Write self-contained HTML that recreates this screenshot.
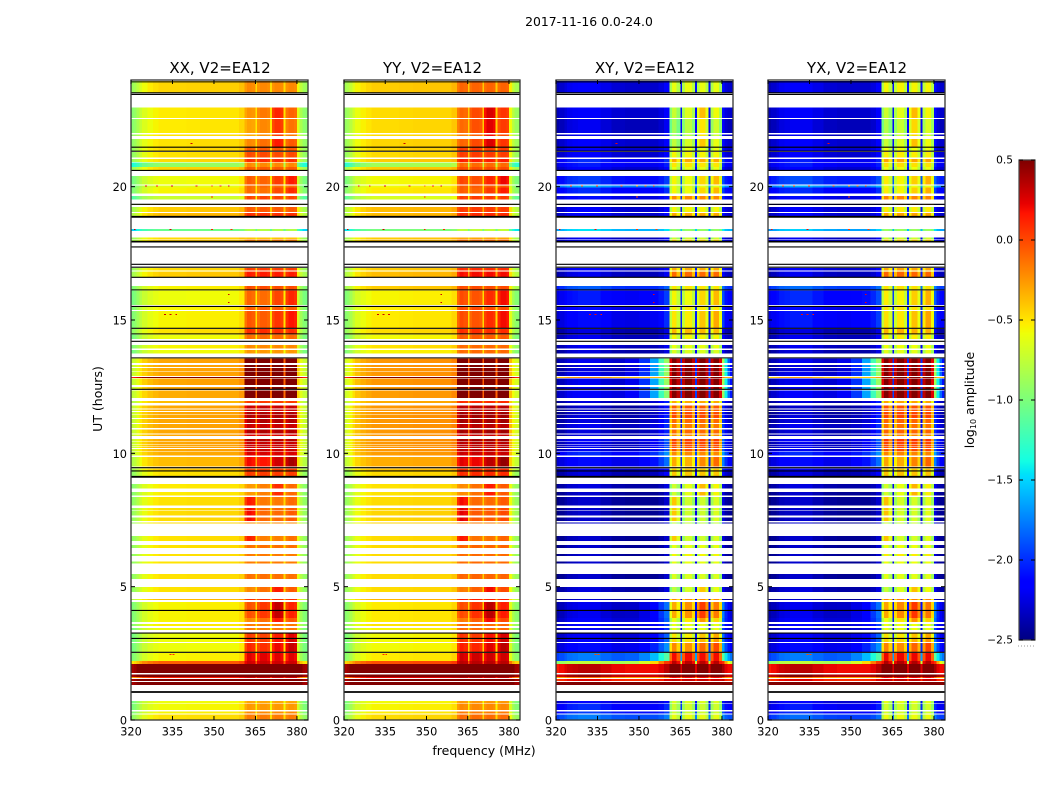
<!DOCTYPE html>
<html>
<head>
<meta charset="utf-8">
<title>2017-11-16 amplitude waterfall</title>
<style>
html,body{margin:0;padding:0;background:#fff;width:1050px;height:800px;overflow:hidden}
svg{display:block}
text{font-family:"DejaVu Sans","Liberation Sans",sans-serif;fill:#000}
</style>
</head>
<body>
<svg id="fig" xmlns="http://www.w3.org/2000/svg" width="1050" height="800" viewBox="0 0 1050 800">
<rect x="0" y="0" width="1050" height="800" fill="#fff"/>
<text x="589" y="26" font-size="12.4" text-anchor="middle">2017-11-16 0.0-24.0</text>
<text x="484" y="755" font-size="12.5" text-anchor="middle">frequency (MHz)</text>
<text transform="translate(102,399) rotate(-90)" font-size="12.5" text-anchor="middle">UT (hours)</text>
<text transform="translate(974,400) rotate(-90)" font-size="12.5" text-anchor="middle">log<tspan font-size="8" dy="2">10</tspan><tspan dy="-2"> amplitude</tspan></text>
<g id="panels"></g>
<g id="colorbar"></g>
</svg>
<script>
// Time rows with data, in UT hours (gaps stay white)
const rowEnd=[23.96,22.96,22.53,21.95,21.79,21.46,21.3,21.04,20.9,20.74,
20.4,20.04,19.97,19.65,19.35,19.24,19.01,18.41,18.09,18.01,
16.95,16.85,16.8,16.28,16.11,15.49,15.34,14.67,14.46,14.06,
13.88,13.56,13.32,13.2,13.07,12.86,12.81,12.49,12.36,11.96,
11.79,11.65,11.55,11.43,11.29,11.1,10.9,10.71,10.54,10.43,
10.33,10.26,10.16,10.07,9.87,9.44,9.32,8.85,8.55,8.37,
7.95,7.83,7.6,7.4,6.9,6.56,6.23,5.94,5.48,4.99,
4.54,4.43,3.83,3.6,3.45,3.24,3.05,2.89,2.52,2.21,
2.1,1.71,1.61,1.54,1.43,.71,.62,.31,.21];
const rowStart=[23.51,22.58,22.01,21.9,21.49,21.34,21.1,20.93,20.74,20.63,
20.08,19.97,19.74,19.51,19.31,19.05,18.9,18.34,18.04,17.96,
16.88,16.82,16.61,16.14,15.56,15.38,14.7,14.48,14.29,13.94,
13.74,13.39,13.24,13.09,12.9,12.83,12.56,12.41,12.08,11.89,
11.69,11.59,11.46,11.33,11.14,10.95,10.75,10.65,10.44,10.35,
10.28,10.2,10.09,9.91,9.5,9.34,9.15,8.68,8.41,8.04,
7.85,7.66,7.46,7.37,6.71,6.45,6.15,5.86,5.29,4.8,
4.5,3.83,3.68,3.53,3.38,3.08,2.93,2.55,2.21,2.1,
1.77,1.61,1.58,1.46,1.31,.64,.38,.24,0];
// log10 amplitude per row: off-band level and in-band level for each polarisation
const xxOff=[-.58,-.65,-.65,-.62,-.62,-.6,-.62,-.6,-1.05,-.58,
-.72,-.75,-.68,-.85,-.5,-.55,-.5,-1.2,-.6,-.55,
-.6,-.6,-.55,-.68,-.72,-.68,-.68,-.62,-.72,-.68,
-.72,-.43,-.43,-.43,-.43,.45,-.43,-.43,-.45,-.5,
-.43,-.43,-.43,-.43,-.43,-.43,-.43,-.43,-.43,-.43,
-.43,-.43,-.43,-.45,-.5,-.55,-.62,-.65,-.65,-.62,
-.6,-.6,-.6,-.6,-.62,-.62,-.62,-.62,-.62,-.62,
-.5,-.68,-.68,-.65,-.7,-.72,-.72,-.72,-.68,-.2,
.7,.7,.0,.7,.7,-.72,-.7,-.68,-.62];
const xxOn=[-.2,-.13,-.18,-.2,-.1,-.05,0,.1,-.2,-.05,
-.05,-.1,-.1,.02,.05,-.05,.08,-.8,-.4,-.15,
.05,.05,.15,0,-.08,-.05,-.03,.1,-.1,-.2,
-.25,.7,.7,.7,.7,.7,.7,.7,.7,.05,
.32,.32,.38,.38,.38,.32,.38,.28,.38,.32,
.32,.32,.32,.28,.2,.05,.05,-.15,-.15,-.1,
-.05,-.05,-.05,-.2,-.12,-.12,-.15,-.15,-.12,-.1,
.1,.08,-.1,-.15,-.15,.05,.08,.12,.25,.3,
.7,.7,.3,.7,.7,-.3,-.25,-.2,-.15];
const yyOff=[-.55,-.6,-.6,-.6,-.58,-.58,-.6,-.55,-1.0,-.55,
-.7,-.7,-.65,-.8,-.5,-.5,-.5,-1.15,-.55,-.5,
-.55,-.55,-.5,-.55,-.68,-.65,-.65,-.6,-.7,-.62,
-.68,-.38,-.38,-.38,-.38,.45,-.38,-.38,-.4,-.45,
-.38,-.38,-.38,-.38,-.38,-.38,-.38,-.38,-.38,-.38,
-.38,-.38,-.38,-.4,-.45,-.52,-.6,-.62,-.62,-.6,
-.58,-.58,-.58,-.58,-.6,-.6,-.6,-.6,-.6,-.6,
-.48,-.65,-.65,-.62,-.68,-.7,-.7,-.7,-.65,-.15,
.7,.7,.1,.7,.7,-.7,-.68,-.65,-.6];
const yyOn=[-.08,.02,0,-.05,.02,.05,.05,.15,-.1,0,
.02,-.05,-.05,.05,.1,.05,.1,-.75,-.3,-.1,
.1,.1,.2,0,0,0,0,.1,-.05,-.1,
-.1,.7,.7,.7,.7,.7,.7,.7,.7,.1,
.36,.36,.42,.42,.42,.36,.42,.32,.42,.36,
.36,.36,.36,.32,.25,.1,.1,-.1,-.1,-.05,
0,0,0,-.15,-.08,-.08,-.1,-.1,-.08,-.05,
.15,.1,-.05,-.1,-.1,.08,.1,.15,.3,.35,
.7,.7,.35,.7,.7,-.25,-.2,-.15,-.1];
const xyOff=[-2.3,-2.3,-2.35,-2.35,-2.3,-2.3,-2.3,-2.15,-2.2,-2.3,
-2.1,-1.75,-2.15,-2.25,-2.25,-2.3,-2.3,-1.6,-2.35,-2.25,
-2.3,-2.3,-2.35,-2,-2.2,-2.25,-2.25,-2.4,-2.35,-2.35,
-2.4,-2.35,-2.4,-2.4,-2.35,-.35,-2.35,-2.35,-2.3,-2.4,
-2.45,-2.45,-2.45,-2.4,-2.4,-2.35,-2.4,-2.4,-2.3,-2.35,
-2.35,-2.35,-2.35,-2.15,-2.25,-2.35,-2.4,-2.4,-2.45,-2.45,
-2.45,-2.45,-2.45,-2.45,-2.45,-2.45,-2.45,-2.45,-2.45,-2.4,
-2.45,-2.35,-2.3,-2.3,-2.35,-2.3,-2.3,-2.25,-1.9,-.9,
.2,.3,-.3,.1,.6,-2.3,-2.15,-2.1,-1.9];
const xyOn=[-.6,-.62,-.75,-.75,-.65,-.6,-.55,-.3,-.5,-.6,
-.55,-.6,-.55,-.2,-.2,-.55,-.3,-.9,-.7,-.45,
-.3,-.3,-.1,-.5,-.55,-.5,-.5,-.35,-.55,-.6,
-.65,.7,.7,.7,.7,.7,.7,.7,.7,-.3,
-.05,-.05,0,0,-.1,-.15,-.1,-.2,.05,0,
0,0,0,-.2,-.3,-.4,-.4,-.6,-.6,-.65,
-.65,-.65,-.65,-.75,-.65,-.6,-.55,-.6,-.65,-.65,
-.2,-.2,-.5,-.6,-.6,-.5,-.45,-.2,.2,.35,
.7,.7,.2,.3,.7,-.65,-.7,-.7,-.6];
const yxOff=[-2.3,-2.3,-2.35,-2.35,-2.3,-2.3,-2.3,-2.2,-2.2,-2.3,
-2.05,-1.75,-2.15,-2.25,-2.25,-2.3,-2.3,-1.65,-2.35,-2.25,
-2.3,-2.3,-2.35,-1.95,-2.15,-2.25,-2.2,-2.4,-2.35,-2.35,
-2.4,-2.35,-2.4,-2.4,-2.35,-.4,-2.35,-2.35,-2.3,-2.4,
-2.45,-2.45,-2.45,-2.4,-2.4,-2.35,-2.4,-2.4,-2.3,-2.35,
-2.35,-2.35,-2.35,-2.15,-2.25,-2.35,-2.4,-2.4,-2.45,-2.45,
-2.45,-2.45,-2.45,-2.45,-2.45,-2.45,-2.45,-2.45,-2.45,-2.4,
-2.45,-2.35,-2.3,-2.3,-2.35,-2.3,-2.3,-2.25,-1.9,-.9,
.2,.35,-.3,.1,.6,-2.3,-2.2,-2.15,-1.95];
const yxOn=[-.55,-.6,-.7,-.7,-.62,-.58,-.52,-.28,-.48,-.58,
-.52,-.58,-.52,-.18,-.18,-.52,-.28,-.88,-.68,-.42,
-.28,-.28,-.08,-.48,-.52,-.48,-.48,-.32,-.52,-.58,
-.62,.7,.7,.7,.7,.7,.7,.7,.7,-.28,
-.02,-.02,.02,.02,-.08,-.12,-.08,-.18,.08,.02,
.02,.02,.02,-.18,-.28,-.38,-.38,-.58,-.58,-.62,
-.62,-.62,-.62,-.72,-.62,-.58,-.52,-.58,-.62,-.62,
-.18,-.18,-.48,-.58,-.58,-.48,-.42,-.18,.22,.38,
.7,.7,.22,.32,.7,-.62,-.68,-.68,-.58];
// Strength of the cross-pol spill beside the band, per row
const crossWing=[0,0,0,0,0,0,0,0,0,0,
0,0,0,0,0,0,0,0,0,0,
0,0,0,0,.1,0,.1,0,0,0,
0,1.3,1.3,1.3,1.3,0,1.3,1.3,1.2,.2,
.2,.2,.2,.2,.2,.2,.2,.2,.3,.3,
.3,.3,.3,.3,.3,.1,.1,0,0,0,
0,0,0,0,0,0,0,0,0,0,
0,.4,.3,.2,.2,.3,.3,.4,.6,.8,
0,0,0,0,0,0,0,0,0];
// Which entry of blockBias each row uses
const rowBias=[0,1,1,1,1,0,0,0,0,0,
2,0,2,0,0,0,0,0,0,0,
0,0,0,0,2,0,2,0,0,0,
0,0,0,0,0,0,0,0,0,0,
0,0,0,0,0,0,0,0,0,0,
0,0,0,0,2,0,0,1,1,3,
3,3,3,0,3,0,0,0,0,1,
0,1,1,0,0,2,2,2,0,0,
0,0,0,0,0,0,0,0,0];
const blockBias=[[0,0,0,0],[-.1,-.02,.25,.05],[0,-.03,.1,.2],[.25,-.05,-.05,0]];
// Frequency channels (MHz edges)
const freqEdges=[320,321,322,323,324,326,328,330,333,336,340,345,350,354,357,359,361,
362,363.5,365,365.6,366.6,369.2,370.3,370.9,371.9,374.1,375.1,375.9,376.9,379,380,381,382,383,384];
const channelBlock=[-1,-1,-1,-1,-1,-1,-1,-1,-1,-1,-1,-1,-1,-1,-1,-1,
0,0,0,-1,1,1,1,-1,2,2,2,-1,3,3,3,-1,-1,-1,-1];
const parallelOffShape=[-.3,-.26,-.18,-.08,0,.06,.1,.13,.13,.13,.14,.15,.15,.15,.15,.2,
0,0,0,0,0,0,0,0,0,0,0,0,0,0,0,.02,-.18,-.28,-.3];
const crossOffShape=[-.05,0,0,.05,.1,.12,.15,.15,.15,.08,.02,0,0,0,.05,.15,
0,0,0,0,0,0,0,0,0,0,0,0,0,0,0,.2,.05,0,0];
const parallelWeight=[0,0,0,0,0,0,0,0,0,0,0,0,0,0,0,0,
.85,1,.95,.3,.9,1,.95,.3,.9,1,.95,.3,.9,1,.95,0,0,0,0];
const crossWeight=[0,0,0,0,0,0,0,0,0,0,0,0,0,0,0,0,
.85,1,.88,.12,.88,1,.88,.12,.88,1,.88,.12,.88,1,.85,0,0,0,0];
const wingShape=[0,0,0,0,0,0,0,0,0,0,.03,.1,.28,.55,.85,1,
0,0,0,0,0,0,0,0,0,0,0,0,0,0,0,1,.7,.4,.2];
// Horizontal flagged lines, UT hours
const blackLineHours=[23.93,23.52,23.46,21.48,21.33,20.61,19.34,17.74,17.09,16.98,16.6,16.13,15.51,14.69,14.48,14.2,13.58,12.4,9.46,9.34,4.11,3.26,3.06,2.54];
const thickLineHours=[18.87,17.94,9.12,1.05];
// Isolated bright specks
const speckHours=[20.0,20.0,20.0,20.0,20.0,20.0,20.0,18.38,18.38,18.38,18.38,15.18,15.18,15.18,15.93,15.63,2.44,2.44,21.6,19.6];
const speckFreqs=[325,329,334.5,343.4,349,352,355,321,334,349,356,332,334,336,355,355,334,335,341.6,349];
const speckLevels=[.2,.15,.25,.2,-.1,.1,.25,.3,.3,.15,.1,.3,.3,.25,.3,.3,.1,.1,.3,.1];
// Axis ticks
const xTickValues=[320,335,350,365,380];
const yTickValues=[0,5,10,15,20];
const colorbarTicks=[0.5,0,-0.5,-1,-1.5,-2,-2.5];
const colorbarTickLabels=["0.5","0.0","\u22120.5","\u22121.0","\u22121.5","\u22122.0","\u22122.5"];
const panelTitles=["XX, V2=EA12","YY, V2=EA12","XY, V2=EA12","YX, V2=EA12"];
const panelKinds=["parallel","parallel","cross","cross"];
const panelOff=[xxOff,yyOff,xyOff,yxOff];
const panelOn=[xxOn,yyOn,xyOn,yxOn];

const SVGNS="http://www.w3.org/2000/svg";
const panelLeft=[131,344,556,768], panelWidth=[177,176,177,177], plotTop=80, plotBottom=720;
const yScale=h=>plotBottom-h*(plotBottom-plotTop)/24;
const xScale=(f,p)=>panelLeft[p]+(f-320)*panelWidth[p]/64;
const vMin=-2.5, vMax=0.5;
const cl=v=>Math.max(0,Math.min(1,v));
function jet(t){
  t=cl(t);
  let r=t<.35?0:t<.66?(t-.35)/.31:t<.89?1:1-(t-.89)/.11*.5;
  let g=t<.125?0:t<.375?(t-.125)/.25:t<.64?1:t<.91?1-(t-.64)/.27:0;
  let b=t<.11?.5+t/.11*.5:t<.34?1:t<.65?1-(t-.34)/.31:0;
  return "rgb("+Math.round(r*255)+","+Math.round(g*255)+","+Math.round(b*255)+")";
}
const colorOf=v=>jet((v-vMin)/(vMax-vMin));
function mk(tag,attrs,parent){
  const el=document.createElementNS(SVGNS,tag);
  for(const k in attrs)el.setAttribute(k,attrs[k]);
  parent.appendChild(el);
  return el;
}
const panelsG=document.getElementById("panels");
panelTitles.forEach((title,p)=>{
  const g=mk("g",{},panelsG);
  
  
  const cross=panelKinds[p]==="cross";
  const offShape=cross?crossOffShape:parallelOffShape;
  const weight=cross?crossWeight:parallelWeight;
  const off=panelOff[p], on=panelOn[p];
  const cells=mk("g",{"shape-rendering":"crispEdges"},g);
  
  
  rowStart.forEach((hs,r)=>{
    const yT=yScale(rowEnd[r]), yB=yScale(hs);
    for(let c=0;c<freqEdges.length-1;c++){
      const bk=channelBlock[c];
      const bias=bk>=0?blockBias[rowBias[r]][bk]*weight[c]:0;
      let v=off[r]+offShape[c]+(on[r]-off[r])*weight[c]+bias;
      if(cross&&bk<0&&weight[c]===0)v+=crossWing[r]*wingShape[c];
      const x0=xScale(freqEdges[c],p), x1=xScale(freqEdges[c+1],p);
      const cell=mk("rect",{x:x0,y:yT,width:x1-x0,height:Math.max(yB-yT,.8),fill:colorOf(v)},cells);
      
      
    }
  });
  speckHours.forEach((h,i)=>{
    const bump=cross?speckLevels[i]-.1:speckLevels[i];
    const s=mk("rect",{x:xScale(speckFreqs[i],p),y:yScale(h+.04),width:xScale(speckFreqs[i]+.7,p)-xScale(speckFreqs[i],p),height:yScale(h)-yScale(h+.04),fill:colorOf(bump),"shape-rendering":"crispEdges"},g);
    
    
  });
  blackLineHours.forEach(h=>{
    const l=mk("line",{x1:panelLeft[p],x2:panelLeft[p]+panelWidth[p],y1:yScale(h),y2:yScale(h),stroke:"#000","stroke-width":1.1},g);
    
    
  });
  thickLineHours.forEach(h=>{
    const l=mk("line",{x1:panelLeft[p],x2:panelLeft[p]+panelWidth[p],y1:yScale(h),y2:yScale(h),stroke:"#000","stroke-width":1.8},g);
    
    
  });
  const frame=mk("rect",{x:panelLeft[p],y:plotTop,width:panelWidth[p],height:plotBottom-plotTop,fill:"none",stroke:"#333","stroke-width":1.3},g);
  
  
  xTickValues.forEach(f=>{
    const x=xScale(f,p);
    const t1=mk("line",{x1:x,x2:x,y1:plotBottom,y2:plotBottom-4,stroke:"#000","stroke-width":1},g);
    
    
    const t2=mk("line",{x1:x,x2:x,y1:plotTop,y2:plotTop+4,stroke:"#000","stroke-width":1},g);
    
    
    const lab=mk("text",{x:x,y:735.5,"font-size":11.3,"text-anchor":"middle"},g);
    
    
    lab.textContent=String(f);
  });
  yTickValues.forEach(h=>{
    const y=yScale(h);
    const xL=panelLeft[p], xR=panelLeft[p]+panelWidth[p];
    const t1=mk("line",{x1:xL,x2:xL+4,y1:y,y2:y,stroke:"#000","stroke-width":1},g);
    
    
    const t2=mk("line",{x1:xR,x2:xR-4,y1:y,y2:y,stroke:"#000","stroke-width":1},g);
    
    
    const lab=mk("text",{x:xL-4,y:y+4.5,"font-size":11.3,"text-anchor":"end"},g);
    
    
    lab.textContent=String(h);
  });
  const tt=mk("text",{x:panelLeft[p]+panelWidth[p]/2+.5,y:73,"font-size":15,"text-anchor":"middle"},g);
  
  
  tt.textContent=title;
});
// Colorbar
const cbG=document.getElementById("colorbar");
const cbX=1019, cbW=16, cbTop=160, cbBot=640;
const cbY=v=>cbBot-(v-vMin)/(vMax-vMin)*(cbBot-cbTop);
const cbSteps=240;
for(let i=0;i<cbSteps;i++){
  const v0=vMin+(vMax-vMin)*i/cbSteps, v1=vMin+(vMax-vMin)*(i+1)/cbSteps;
  const s=mk("rect",{x:cbX,y:cbY(v1),width:cbW,height:cbY(v0)-cbY(v1)+.5,fill:colorOf((v0+v1)/2),"shape-rendering":"crispEdges"},cbG);
  
  
}
const cbFrame=mk("rect",{x:cbX,y:cbTop,width:cbW,height:cbBot-cbTop,fill:"none",stroke:"#444","stroke-width":1.2},cbG);


colorbarTicks.forEach((v,i)=>{
  const y=cbY(v);
  const a=mk("line",{x1:cbX,x2:cbX+4,y1:y,y2:y,stroke:"#000","stroke-width":1},cbG);
  
  
  const b=mk("line",{x1:cbX+cbW,x2:cbX+cbW-4,y1:y,y2:y,stroke:"#000","stroke-width":1},cbG);
  
  
  const lab=mk("text",{x:cbX-6,y:y+3.5,"font-size":10.6,"text-anchor":"end"},cbG);
  
  
  lab.textContent=colorbarTickLabels[i];
});
const dots=mk("line",{x1:cbX-1,x2:cbX+cbW,y1:646,y2:646,stroke:"#999","stroke-width":1,"stroke-dasharray":"1 2"},cbG);


</script>
</body>
</html>
